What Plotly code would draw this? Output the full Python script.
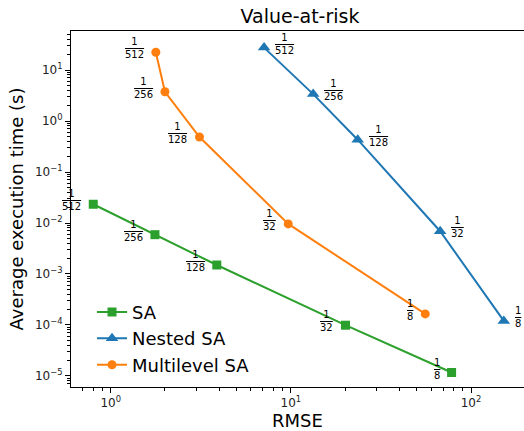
import numpy as np
import plotly.graph_objects as go

# ---- data ----
step_labels = ["512", "256", "128", "32", "8"]  # denominators of 1/h

sa_rmse = [0.80, 1.76, 3.88, 20.1, 78.0]
sa_time = [0.0233, 0.0059, 0.0015, 9.9e-5, 1.17e-5]

nested_rmse = [7.1, 13.3, 23.5, 67.4, 152.0]
nested_time = [27.5, 3.37, 0.43, 0.0069, 1.2e-4]

mlsa_rmse = [1.78, 2.0, 3.11, 9.67, 55.7]
mlsa_time = [22.3, 3.74, 0.486, 0.0096, 1.65e-4]

x_tickvals = [1, 10, 100]
x_ticktext = ["10<sup>0</sup>", "10<sup>1</sup>", "10<sup>2</sup>"]
y_tickvals = [1e-5, 1e-4, 1e-3, 1e-2, 1e-1, 1, 10]
y_ticktext = ["10<sup>\u22125</sup>", "10<sup>\u22124</sup>", "10<sup>\u22123</sup>",
              "10<sup>\u22122</sup>", "10<sup>\u22121</sup>", "10<sup>0</sup>", "10<sup>1</sup>"]

BLUE, ORANGE, GREEN = "#1f77b4", "#ff7f0e", "#2ca02c"
FONT = "DejaVu Sans"

x_range = [-0.2204, 2.294]
y_range = [-5.216, 1.765]

x_minor = [m * 10.0**d for d in range(-1, 3) for m in range(2, 10)]
x_minor = [v for v in x_minor if x_range[0] <= np.log10(v) <= x_range[1]]
y_minor = [m * 10.0**d for d in range(-6, 2) for m in range(2, 10)]
y_minor = [v for v in y_minor if y_range[0] <= np.log10(v) <= y_range[1]]

fig = go.Figure()
series = [
    ("SA", sa_rmse, sa_time, GREEN, "square", 9, "right"),
    ("Nested SA", nested_rmse, nested_time, BLUE, "triangle-up", 11, "left"),
    ("Multilevel SA", mlsa_rmse, mlsa_time, ORANGE, "circle", 9, "right"),
]
annotations = []
for name, xs, ys, col, sym, msize, side in series:
    fig.add_trace(go.Scatter(
        x=xs, y=ys, mode="lines+markers", name=name,
        line=dict(color=col, width=2),
        marker=dict(symbol=sym, size=msize, color=col, line=dict(width=0)),
    ))
    for xv, yv, lab in zip(xs, ys, step_labels):
        annotations.append(dict(
            x=np.log10(xv), y=np.log10(yv), xref="x", yref="y",
            text="1<br><span style='text-decoration:overline'>" + lab + "</span>",
            showarrow=False, xanchor=side, yanchor="middle",
            xshift=-10 if side == "right" else 9, yshift=4,
            font=dict(family=FONT, size=10, color="black"),
        ))

axis_common = dict(
    type="log", showgrid=False, zeroline=False, showline=True,
    linecolor="black", linewidth=1, ticks="outside", ticklen=5,
    tickwidth=1, tickcolor="black", tickmode="array",
    tickfont=dict(family=FONT, size=12, color="#222"),
)

fig.update_layout(
    width=524, height=431,
    margin=dict(l=71, r=0, t=31, b=44),
    paper_bgcolor="white", plot_bgcolor="white",
    font=dict(family=FONT, color="black"),
    title=dict(text="Value-at-risk", x=300 / 524, xref="container", xanchor="center",
               y=1 - 16 / 431, yref="container", yanchor="middle",
               font=dict(family=FONT, size=19, color="black")),
    showlegend=True,
    legend=dict(x=0.0464, y=0.262, xanchor="left", yanchor="top",
                bgcolor="rgba(255,255,255,0.8)",
                font=dict(family=FONT, size=18, color="black")),
    annotations=annotations,
)
fig.update_xaxes(**axis_common, range=x_range, mirror=True,
                 tickvals=x_tickvals, ticktext=x_ticktext,
                 minor=dict(tickmode="array", tickvals=x_minor, ticks="outside",
                            ticklen=3, tickcolor="black", tickwidth=1),
                 title=dict(text="RMSE", standoff=5, font=dict(family=FONT, size=18, color="black")))
fig.update_yaxes(**axis_common, range=y_range, mirror=False,
                 tickvals=y_tickvals, ticktext=y_ticktext,
                 minor=dict(tickmode="array", tickvals=y_minor, ticks="outside",
                            ticklen=3, tickcolor="black", tickwidth=1),
                 title=dict(text="Average execution time (s)", standoff=6,
                            font=dict(family=FONT, size=18, color="black")))

fig.write_html("out.html")
